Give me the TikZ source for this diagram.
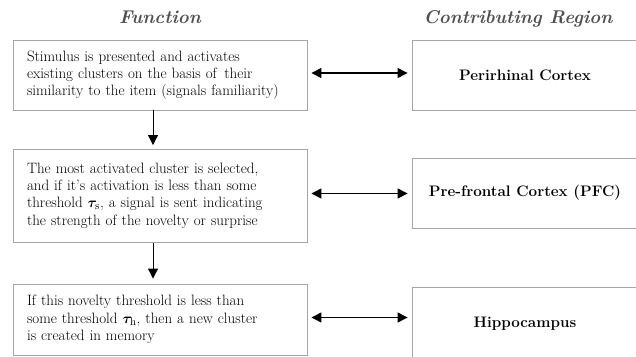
\documentclass[tikz,border=0pt]{standalone}
\usepackage{bm}
\usetikzlibrary{arrows.meta,calc}
\definecolor{boxgray}{HTML}{A6A6A6}
\definecolor{headgray}{HTML}{505050}
\definecolor{txt}{HTML}{000000}
\begin{document}
\begin{tikzpicture}[x=1pt,y=-1pt,
  lbox/.style={draw=boxgray, line width=0.9pt, text width=266pt, inner xsep=14pt, inner ysep=0pt, align=left, font=\fontsize{15}{17.3}\selectfont, text=txt},
  rbox/.style={draw=boxgray, line width=0.9pt, minimum width=226pt, minimum height=70pt, align=center, font=\fontsize{15.2}{18}\selectfont\bfseries},
  head/.style={font=\fontsize{18.5}{20}\selectfont\bfseries\itshape, text=headgray, anchor=base},
  dbl/.style={{Triangle[length=10pt,width=10pt]}-{Triangle[length=10pt,width=10pt]}, line width=1.3pt, shorten <=4pt, shorten >=4pt},
  sgl/.style={-{Triangle[length=10pt,width=10pt]}, line width=1pt}]
\useasboundingbox (0,0) rectangle (636,356);
\fill[white] (0,0) rectangle (636,356);
\node[head] (H1) at (160,23) {Function};
\node[head] (H2) at (518,23) {Contributing Region};
\node[lbox, minimum height=70pt] (L1) at (160,75) {Stimulus is presented and activates\\ existing clusters on the basis of\, their\\ similarity to the item (signals familiarity)};
\node[lbox, minimum height=93pt] (L2) at (160,195.5) {The most activated cluster is selected,\\ and if it's activation is less than some\\ threshold $\bm{\tau}_{\mathrm{s}}$, a signal is sent indicating\\ the strength of the novelty or surprise};
\node[lbox, minimum height=71pt] (L3) at (160,319.5) {If this novelty threshold is less than\\ some threshold $\bm{\tau}_{\mathrm{h}}$, then a new cluster\\ is created in memory};
\node[rbox] (R1) at (525,75) {Perirhinal Cortex};
\node[rbox] (R2) at (525,193) {Pre-frontal Cortex (PFC)};
\node[rbox, minimum height=73pt] (R3) at (525,323.5) {Hippocampus};
\draw[dbl] ([yshift=2pt]L1.east) -- ([yshift=2pt]L1.east -| R1.west);
\draw[dbl] ([yshift=2pt]L2.east) -- ([yshift=2pt]L2.east -| R2.west);
\draw[dbl] ([yshift=2pt]L3.east) -- ([yshift=2pt]L3.east -| R3.west);
\draw[sgl, shorten >=3.5pt] ([xshift=-7pt]L1.south) -- ([xshift=-7pt]L1.south |- L2.north);
\draw[sgl, shorten <=1pt, shorten >=5pt] ([xshift=-7pt]L2.south) -- ([xshift=-7pt]L2.south |- L3.north);
\end{tikzpicture}
\end{document}
